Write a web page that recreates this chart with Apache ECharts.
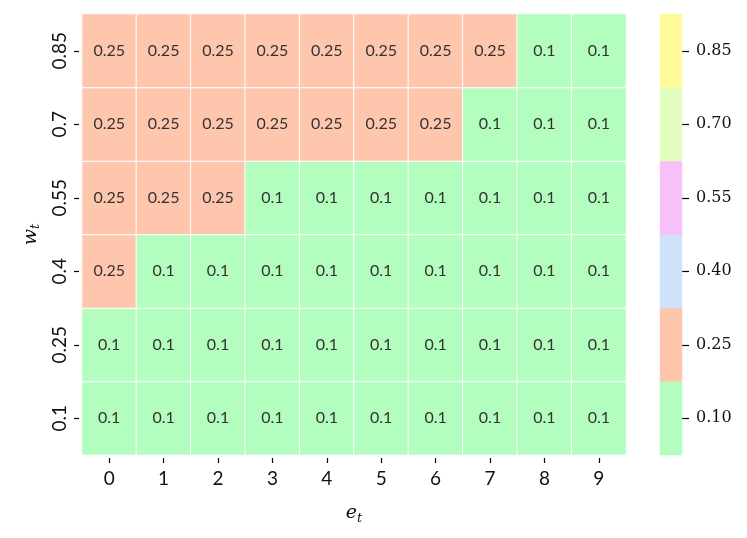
<!DOCTYPE html>
<html>
<head>
<meta charset="utf-8">
<script src="https://cdn.jsdelivr.net/npm/echarts@6/dist/echarts.min.js"></script>
<style>
  html, body { margin: 0; padding: 0; background: #fff; }
  #main { width: 747px; height: 538px; }
</style>
</head>
<body>
<div id="main"></div>
<script>
// e_t along x, w_t along y (bottom -> top)
var eLabels = ['0', '1', '2', '3', '4', '5', '6', '7', '8', '9'];
var wLabels = ['0.1', '0.25', '0.4', '0.55', '0.7', '0.85'];
// one row per w_t, bottom row first
var row_0_1  = [0.1, 0.1, 0.1, 0.1, 0.1, 0.1, 0.1, 0.1, 0.1, 0.1];
var row_0_25 = [0.1, 0.1, 0.1, 0.1, 0.1, 0.1, 0.1, 0.1, 0.1, 0.1];
var row_0_4  = [0.25, 0.1, 0.1, 0.1, 0.1, 0.1, 0.1, 0.1, 0.1, 0.1];
var row_0_55 = [0.25, 0.25, 0.25, 0.1, 0.1, 0.1, 0.1, 0.1, 0.1, 0.1];
var row_0_7  = [0.25, 0.25, 0.25, 0.25, 0.25, 0.25, 0.25, 0.1, 0.1, 0.1];
var row_0_85 = [0.25, 0.25, 0.25, 0.25, 0.25, 0.25, 0.25, 0.25, 0.1, 0.1];
var rows = [row_0_1, row_0_25, row_0_4, row_0_55, row_0_7, row_0_85];
// colorbar levels
var levels = [0.10, 0.25, 0.40, 0.55, 0.70, 0.85];
var levelLabels = ['0.10', '0.25', '0.40', '0.55', '0.70', '0.85'];
var levelColors = ['#b3fdbf', '#ffc6ae', '#cfe2f7', '#f7c0fa', '#e3ffc0', '#fffa9a'];

var cells = [];
rows.forEach(function (r, yi) {
  r.forEach(function (v, xi) {
    cells.push([xi, yi, v]);
  });
});
var barCells = levels.map(function (v, i) { return [0, i, v]; });

var pieces = levels.map(function (v, i) {
  return { min: v - 0.075, max: v + 0.075, color: levelColors[i] };
});

var chart = echarts.init(document.getElementById('main'), null, { renderer: 'canvas' });

var sansFont = 'Lato, "DejaVu Sans", sans-serif';
var serifFont = '"DejaVu Serif", "Liberation Serif", serif';

chart.setOption({
  animation: false,
  backgroundColor: '#fff',
  grid: [
    { left: 82, right: 121, top: 14, bottom: 83 },
    { left: 660, width: 22, top: 14, bottom: 83 }
  ],
  xAxis: [{
    type: 'category',
    gridIndex: 0,
    data: eLabels,
    offset: 3,
    axisLine: { show: false },
    axisTick: { show: true, alignWithLabel: true, length: 5, lineStyle: { color: '#000', width: 1.2 } },
    axisLabel: { color: '#111', fontSize: 19, fontFamily: sansFont, margin: 11 },
    splitLine: { show: false },
    name: '{v|e}{s|t}',
    nameLocation: 'middle',
    nameGap: 44,
    nameTextStyle: {
      rich: {
        v: { fontFamily: serifFont, fontStyle: 'italic', fontSize: 19, color: '#111' },
        s: { fontFamily: serifFont, fontStyle: 'italic', fontSize: 13, color: '#111', verticalAlign: 'bottom', padding: [10, 0, 0, 0] }
      }
    }
  }, {
    type: 'category',
    gridIndex: 1,
    data: ['c'],
    show: false
  }],
  yAxis: [{
    type: 'category',
    gridIndex: 0,
    data: wLabels,
    offset: 3,
    axisLine: { show: false },
    axisTick: { show: true, alignWithLabel: true, length: 5, lineStyle: { color: '#000', width: 1.2 } },
    axisLabel: { color: '#111', fontSize: 19, fontFamily: sansFont, rotate: 90, margin: 10 },
    splitLine: { show: false },
    name: '{v|w}{s|t}',
    nameLocation: 'middle',
    nameGap: 35,
    nameRotate: 90,
    nameTextStyle: {
      rich: {
        v: { fontFamily: serifFont, fontStyle: 'italic', fontSize: 19, color: '#111' },
        s: { fontFamily: serifFont, fontStyle: 'italic', fontSize: 13, color: '#111', verticalAlign: 'bottom', padding: [10, 0, 0, 0] }
      }
    }
  }, {
    type: 'category',
    gridIndex: 1,
    data: levelLabels,
    position: 'right',
    axisLine: { show: false },
    axisTick: { show: true, alignWithLabel: true, length: 7, lineStyle: { color: '#000', width: 1.2 } },
    axisLabel: { color: '#111', fontSize: 16, fontFamily: serifFont, margin: 14 },
    splitLine: { show: false }
  }],
  visualMap: {
    type: 'piecewise',
    show: false,
    dimension: 2,
    seriesIndex: [0, 1],
    pieces: pieces
  },
  series: [{
    type: 'heatmap',
    xAxisIndex: 0,
    yAxisIndex: 0,
    data: cells,
    itemStyle: { borderColor: '#fff', borderWidth: 1 },
    label: {
      show: true,
      color: '#333',
      fontSize: 16,
      fontFamily: sansFont,
      formatter: function (p) { return String(p.value[2]); }
    }
  }, {
    type: 'heatmap',
    xAxisIndex: 1,
    yAxisIndex: 1,
    data: barCells,
    itemStyle: { borderWidth: 0 },
    label: { show: false }
  }]
});
</script>
</body>
</html>
